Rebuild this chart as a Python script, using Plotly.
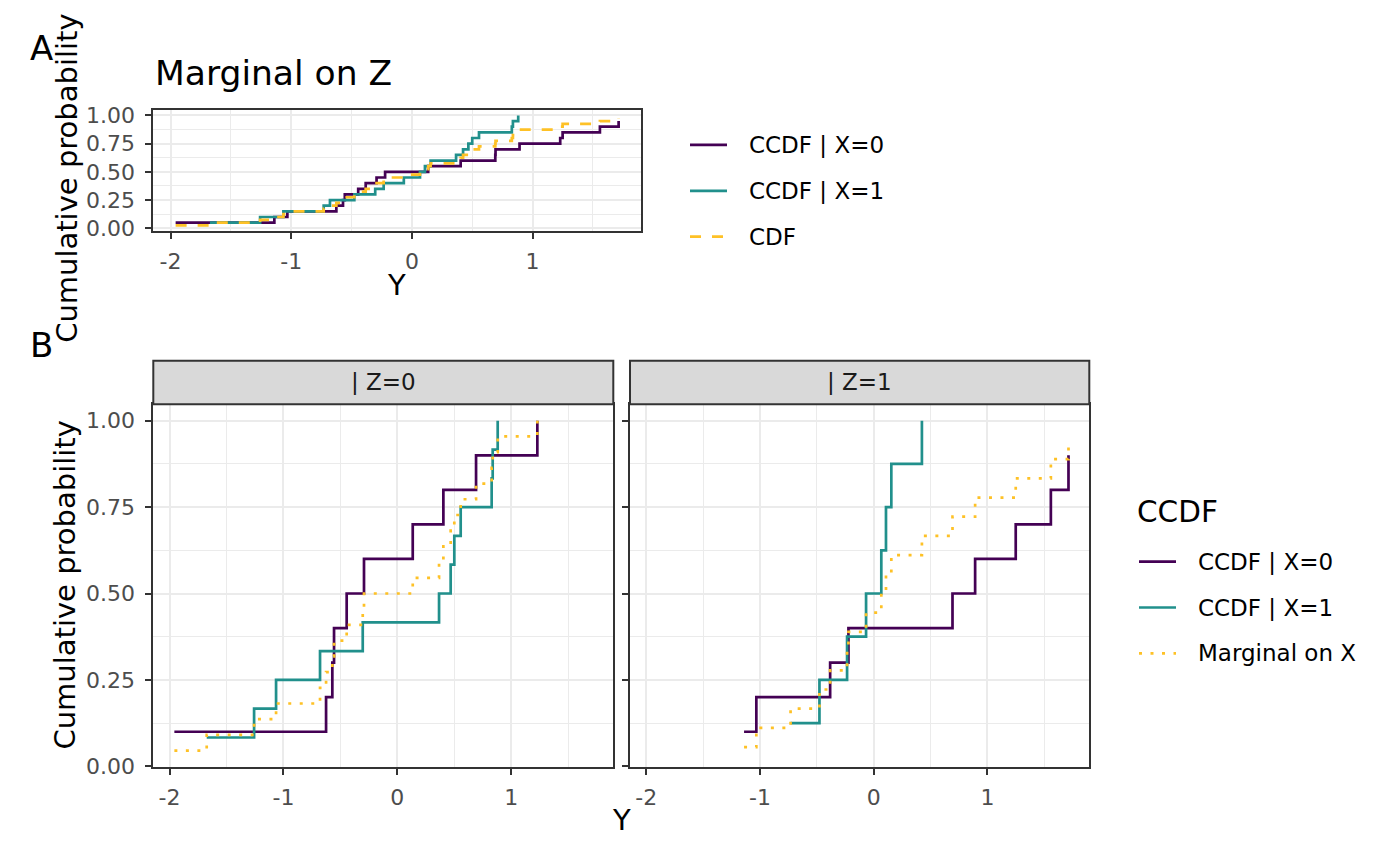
import plotly.graph_objects as go

y_z0_x0 = [-1.958, -0.626, -0.571, -0.556, -0.445, -0.293, 0.135, 0.404, 0.691, 1.229]
y_z0_x1 = [-1.674, -1.258, -1.065, -0.679, -0.304, 0.366, 0.468, 0.500, 0.556, 0.828, 0.837, 0.881]
y_z1_x0 = [-1.140, -1.032, -0.383, -0.222, 0.693, 0.892, 1.249, 1.558, 1.713]  # 10th obs falls past the x limit
y_z1_x1 = [-0.731, -0.477, -0.234, -0.067, 0.067, 0.108, 0.155, 0.424]

# group sizes (Z=1, X=0 has one point outside the plotted range)
n_z0_x0 = 10
n_z0_x1 = 12
n_z1_x0 = 10
n_z1_x1 = 8

x_ticks = [-2, -1, 0, 1]
x_tick_text = ["-2", "-1", "0", "1"]
x_minor = [-1.5, -0.5, 0.5, 1.5]
y_ticks = [0, 0.25, 0.5, 0.75, 1.0]
y_tick_text = ["0.00", "0.25", "0.50", "0.75", "1.00"]
y_minor = [0.125, 0.375, 0.625, 0.875]

legend_top = ["CCDF | X=0", "CCDF | X=1", "CDF"]
legend_bottom = ["CCDF | X=0", "CCDF | X=1", "Marginal on X"]
strip_labels = ["| Z=0", "| Z=1"]

col_x0 = "#440154"
col_x1 = "#21908C"
col_m = "#FEC126"
FONT = "DejaVu Sans"
PAGE_M = 8                          # default body margin of the page
W, H = 1400 - 2 * PAGE_M, 866 - 2 * PAGE_M
LW = 2.7
# the snapshot came out slightly squeezed vertically; undo that
V_OFF, V_SCALE = 4.8, 0.9807


def ecdf_steps(vals, n):
    xs = sorted(vals)
    ys = [(i + 1) / n for i in range(len(xs))]
    return xs, ys


# window pixel -> paper coords
def px(x):
    return (x - PAGE_M) / W


def py(y):
    yc = (y - V_OFF) / V_SCALE
    return 1 - (yc - PAGE_M) / H


fig = go.Figure()

# ---- panel A: marginal on Z
series_a = [
    (y_z0_x0 + y_z1_x0, n_z0_x0 + n_z1_x0, col_x0, "solid"),
    (y_z0_x1 + y_z1_x1, n_z0_x1 + n_z1_x1, col_x1, "solid"),
    (y_z0_x0 + y_z1_x0 + y_z0_x1 + y_z1_x1, n_z0_x0 + n_z1_x0 + n_z0_x1 + n_z1_x1, col_m, "11px,11px"),
]
for vals, n, c, d in series_a:
    xs, ys = ecdf_steps(vals, n)
    fig.add_trace(go.Scatter(x=xs, y=ys, mode="lines", line=dict(color=c, width=LW, dash=d, shape="hv"),
                             showlegend=False, xaxis="x", yaxis="y"))

# ---- panel B: by Z
panels = [
    ("x2", "y2", y_z0_x0, n_z0_x0, y_z0_x1, n_z0_x1),
    ("x3", "y3", y_z1_x0, n_z1_x0, y_z1_x1, n_z1_x1),
]
for xa, ya, v0, n0, v1, n1 in panels:
    for vals, n, c, d in [(v0, n0, col_x0, "solid"), (v1, n1, col_x1, "solid"),
                          (v0 + v1, n0 + n1, col_m, "3px,8.5px")]:
        xs, ys = ecdf_steps(vals, n)
        fig.add_trace(go.Scatter(x=xs, y=ys, mode="lines", line=dict(color=c, width=LW, dash=d, shape="hv"),
                                 showlegend=False, xaxis=xa, yaxis=ya))

grid = "#EBEBEB"
border = "#333333"
tickfont = dict(family=FONT, size=22, color="#4D4D4D")


def xax(dom, anchor):
    return dict(domain=dom, anchor=anchor, range=[-2.143, 1.896], tickvals=x_ticks, ticktext=x_tick_text,
                showgrid=True, gridcolor=grid, gridwidth=2, zeroline=False,
                minor=dict(tickvals=x_minor, showgrid=True, gridcolor=grid, gridwidth=1, ticks=""),
                showline=True, mirror=True, linecolor=border, linewidth=2,
                ticks="outside", ticklen=6, tickwidth=2, tickcolor=border,
                tickfont=tickfont, ticklabelstandoff=4)


def yax(dom, anchor, rng, labels=True):
    return dict(domain=dom, anchor=anchor, range=rng, tickvals=y_ticks, ticktext=y_tick_text,
                showticklabels=labels,
                showgrid=True, gridcolor=grid, gridwidth=2, zeroline=False,
                minor=dict(tickvals=y_minor, showgrid=True, gridcolor=grid, gridwidth=1, ticks=""),
                showline=True, mirror=True, linecolor=border, linewidth=2,
                ticks="outside", ticklen=6, tickwidth=2, tickcolor=border,
                tickfont=tickfont, ticklabelstandoff=6)


top_y = [py(229.3), py(108.3)]
bot_y = [py(767), py(403)]
left_x = [px(153.3), px(613.3)]
right_x = [px(630), px(1089.3)]

fig.update_layout(
    width=W, height=H,
    margin=dict(l=0, r=0, t=0, b=0),
    paper_bgcolor="white", plot_bgcolor="white",
    font=dict(family=FONT, color="black"),
    xaxis=xax([px(153.3), px(640.7)], "y"),
    yaxis=yax(top_y, "x", [-0.024, 1.045]),
    xaxis2=xax(left_x, "y2"),
    yaxis2=yax(bot_y, "x2", [-0.002, 1.048]),
    xaxis3=xax(right_x, "y3"),
    yaxis3=yax(bot_y, "x3", [-0.002, 1.048], labels=False),
)

ann = []
shapes = []


def text(x, y, s, size, xanchor="center", angle=0, color="black"):
    ann.append(dict(x=px(x), y=py(y), xref="paper", yref="paper", text=s, showarrow=False,
                    xanchor=xanchor, yanchor="middle", textangle=angle,
                    font=dict(family=FONT, size=size, color=color)))


# tags, title, axis titles
text(41, 46, "A", 34)
text(41, 344, "B", 34)
text(153, 71, "Marginal on Z", 34.5, xanchor="left")
text(397, 283, "Y", 29)
text(621, 820, "Y", 29)
text(67, 177, "Cumulative probability", 29, angle=-90)   # nudged down so it stays inside the page
text(65, 585, "Cumulative probability", 29, angle=-90)

# facet strips
for (x0, x1), lab in zip([(153.3, 613.3), (630, 1089.3)], strip_labels):
    shapes.append(dict(type="rect", xref="paper", yref="paper", x0=px(x0), x1=px(x1), y0=py(403), y1=py(359.5),
                       fillcolor="#D9D9D9", line=dict(color=border, width=2)))
    text((x0 + x1) / 2, 381, lab, 23, color="#1A1A1A")

# legends
for i, (lab, c, d) in enumerate(zip(legend_top, [col_x0, col_x1, col_m], ["solid", "solid", "11px,11px"])):
    yy = 143 + 46 * i
    shapes.append(dict(type="line", xref="paper", yref="paper", x0=px(690), x1=px(727), y0=py(yy), y1=py(yy),
                       line=dict(color=c, width=LW, dash=d)))
    text(747, yy, lab, 23, xanchor="left")

text(1135, 511, "CCDF", 29.5, xanchor="left")
for i, (lab, c, d) in enumerate(zip(legend_bottom, [col_x0, col_x1, col_m], ["solid", "solid", "3px,8.5px"])):
    yy = 561 + 46 * i
    shapes.append(dict(type="line", xref="paper", yref="paper", x0=px(1139), x1=px(1176), y0=py(yy), y1=py(yy),
                       line=dict(color=c, width=LW, dash=d)))
    text(1196, yy, lab, 23, xanchor="left")

fig.update_layout(annotations=ann, shapes=shapes)

fig.write_html("out.html", config=dict(displayModeBar=False))
